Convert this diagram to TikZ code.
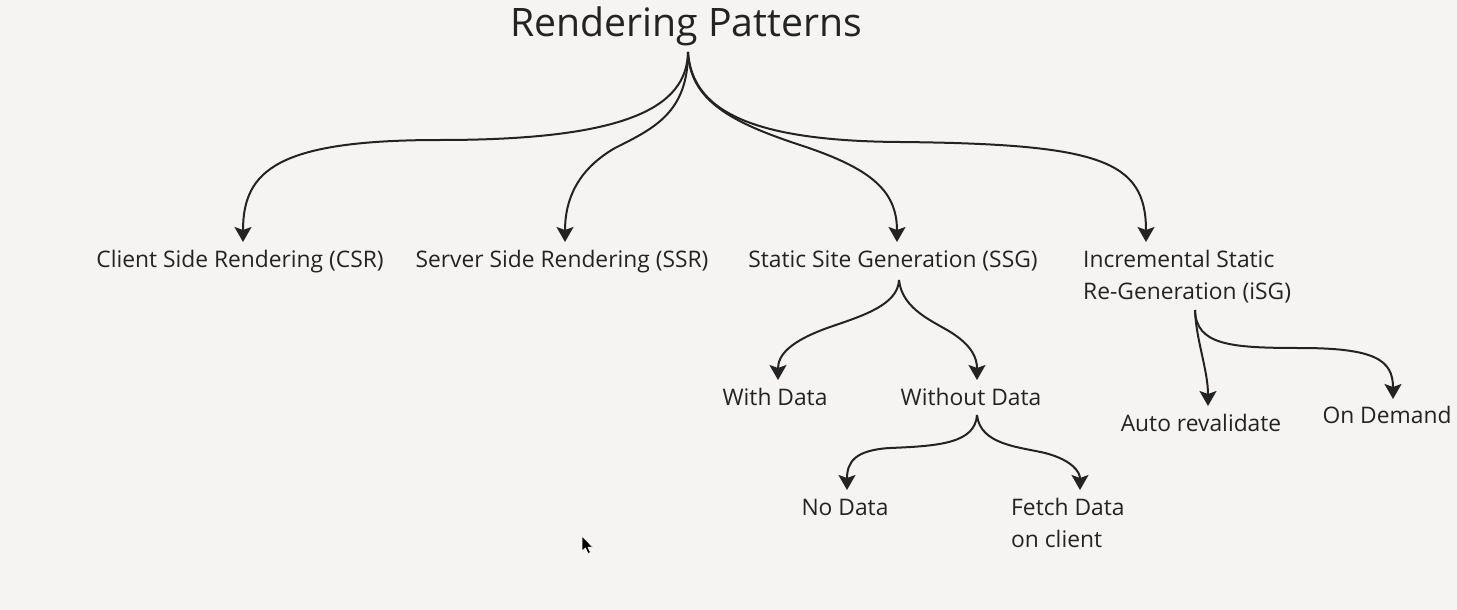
\documentclass[tikz,border=0pt]{standalone}
\usepackage{fontspec}
\setmainfont{Open Sans}
\usetikzlibrary{arrows.meta}
\definecolor{bg}{HTML}{F5F4F2}
\definecolor{ink}{HTML}{232323}
\tikzset{
  lbl/.style={inner sep=0pt, text=ink, font=\fontsize{22.8}{32}\selectfont},
  conn/.style={draw=ink, line width=2pt, -{Stealth[length=15pt,width=17pt,inset=3pt]}},
}
\begin{document}
\begin{tikzpicture}[x=1pt,y=-1pt]
\fill[bg] (0,0) rectangle (1457,610);
\useasboundingbox (0,0) rectangle (1457,610);

\node[lbl, anchor=base, font=\fontsize{39.2}{40}\selectfont] (title) at (686,37) {Rendering Patterns};
\node[lbl, anchor=base] (csr) at (240,267) {Client Side Rendering (CSR)};
\node[lbl, anchor=base] (ssr) at (562,267) {Server Side Rendering (SSR)};
\node[lbl, anchor=base] (ssg) at (893,267) {Static Site Generation (SSG)};
\node[lbl, anchor=base west, align=left] (isg) at (1083,299) {Incremental Static\\Re-Generation (iSG)};
\node[lbl, anchor=base] (with) at (775,405) {With Data};
\node[lbl, anchor=base] (without) at (971,405) {Without Data};
\node[lbl, anchor=base] (nodata) at (845,515) {No Data};
\node[lbl, anchor=base west, align=left] (fetch) at (1011,547) {Fetch Data\\on client};
\node[lbl, anchor=base] (auto) at (1201,431) {Auto revalidate};
\node[lbl, anchor=base] (demand) at (1387,423) {On Demand};

% connector end points
\coordinate (root) at (688,52);
\coordinate (csrIn) at (243,242);
\coordinate (ssrIn) at (565,242);
\coordinate (ssgIn) at (897,242);
\coordinate (isgIn) at (1146,242);
\coordinate (ssgOut) at (899,280);
\coordinate (withIn) at (778,380);
\coordinate (withoutIn) at (977,380);
\coordinate (withoutOut) at (977,415);
\coordinate (nodataIn) at (847,490);
\coordinate (fetchIn) at (1080,490);
\coordinate (isgOut) at (1195,310);
\coordinate (autoIn) at (1208,406);
\coordinate (demandIn) at (1393,399);

\draw[conn] (root) .. controls (687,108) and (625,140) .. (440,140)
               .. controls (278,140) and (243,170) .. (csrIn);
\draw[conn] (root) .. controls (688,112) and (655,128) .. (615,148)
               .. controls (577,170) and (565,200) .. (ssrIn);
\draw[conn] (root) .. controls (690,100) and (730,122) .. (800,145)
               .. controls (870,168) and (897,190) .. (ssgIn);
\draw[conn] (root) .. controls (692,108) and (745,141) .. (900,142)
               .. controls (1100,144) and (1146,160) .. (isgIn);

\draw[conn] (ssgOut) .. controls (898,305) and (862,316) .. (830,327)
                 .. controls (790,341) and (778,355) .. (withIn);
\draw[conn] (ssgOut) .. controls (902,310) and (935,322) .. (952,333)
                 .. controls (972,346) and (977,358) .. (withoutIn);

\draw[conn] (withoutOut) .. controls (975,443) and (940,446) .. (890,448)
                     .. controls (855,450) and (847,462) .. (nodataIn);
\draw[conn] (withoutOut) .. controls (980,445) and (1020,447) .. (1045,453)
                     .. controls (1072,460) and (1080,472) .. (fetchIn);

\draw[conn] (isgOut) .. controls (1196,340) and (1208,370) .. (autoIn);
\draw[conn] (isgOut) .. controls (1196,345) and (1230,348) .. (1300,348)
                 .. controls (1375,348) and (1393,360) .. (demandIn);

% mouse pointer
\filldraw[fill=black, draw=white, line width=0.6pt]
  (582,536) -- (582,551) -- (585.5,548) -- (588,553.5) -- (590.5,552.5)
  -- (588,547.3) -- (592.5,547) -- cycle;
\end{tikzpicture}
\end{document}
